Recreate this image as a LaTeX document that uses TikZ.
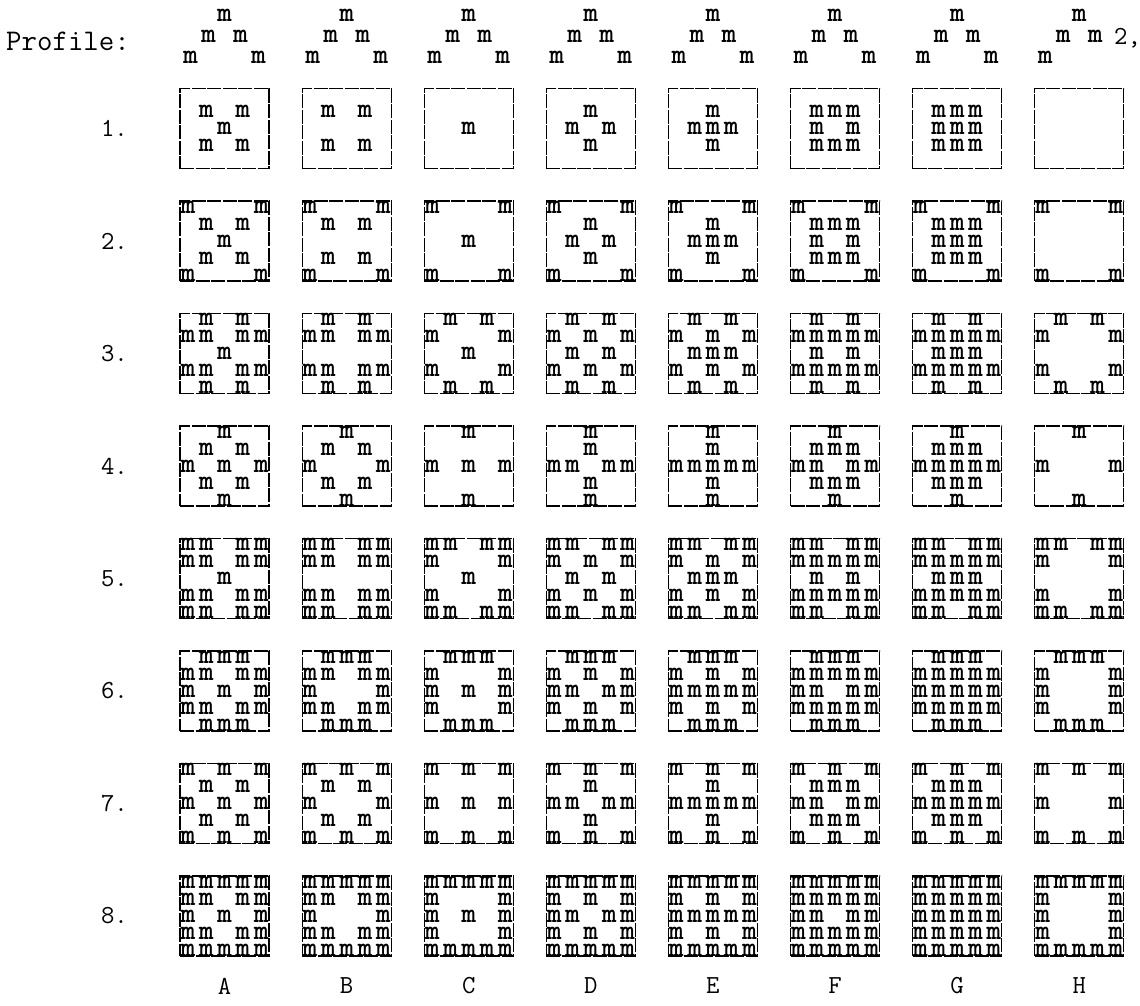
\documentclass[tikz,border=0pt]{standalone}
\usepackage{xcolor}
\usetikzlibrary{calc}

% the eight 3x3 profiles, one per column (x right, y down)
\newcommand\profA{0/0,-1/-1,1/-1,-1/1,1/1}
\newcommand\profB{-1/-1,1/-1,-1/1,1/1}
\newcommand\profC{0/0}
\newcommand\profD{0/-1,-1/0,1/0,0/1}
\newcommand\profE{0/-1,-1/0,0/0,1/0,0/1}
\newcommand\profF{-1/-1,0/-1,1/-1,-1/0,1/0,-1/1,0/1,1/1}
\newcommand\profG{-1/-1,0/-1,1/-1,-1/0,0/0,1/0,-1/1,0/1,1/1}
\newcommand\profH{}
% the neighbours typed round it, one set per row
\newcommand\layi{}
\newcommand\layii{-2/-2,2/-2,-2/2,2/2}
\newcommand\layiii{-1/-2,1/-2,-2/-1,2/-1,-2/1,2/1,-1/2,1/2}
\newcommand\layiv{0/-2,-2/0,2/0,0/2}
\newcommand\layv{\layii,\layiii}
\newcommand\layvi{\layiii,\layiv}
\newcommand\layvii{\layii,\layiv}
\newcommand\layviii{\layii,\layiii,\layiv}

\tikzset{
  typed/.style={font=\ttfamily\fontseries{b}\fontsize{28}{28}\selectfont,inner sep=0pt},
  tlabel/.style={font=\ttfamily\fontsize{26}{26}\selectfont,inner sep=0pt},
  tbox/.style={draw,line width=1.1pt,dash pattern=on 14pt off 1.5pt,
    minimum width=89pt,minimum height=80pt,inner sep=0pt},
}

\begin{document}
\begin{tikzpicture}[x=1pt,y=-1pt]
\useasboundingbox (0,0) rectangle (1140,1005);
\node[tlabel,font=\ttfamily\fontsize{30}{30}\selectfont,anchor=west] (profile) at (6,41) {Profile:};
% profile heads
\foreach \cl [count=\ci from 0] in {A,B,C,D,E,F,G}{
  \foreach \dx/\dy [count=\k] in {0/15,-16/36,16/36,-34/57,34/57}{
    \node[typed] (h-\cl-\k) at (224.5+122.1*\ci+\dx,\dy) {m};
  }
}
\foreach \dx/\dy [count=\k] in {0/15,-16/36,16/36,-34/57}{
  \node[typed] (h-H-\k) at (1079.2+\dx,\dy) {m};
}
\node[tlabel,anchor=west] (hnote) at (1114,38) {2,};
% rows
\foreach \rw in {1,...,8}{
  \node[tlabel,anchor=east] (row-\rw) at (128,128.5+112.5*\rw-112.5) {\rw.};
}
% boxes
\foreach \cl [count=\ci from 0] in {A,B,C,D,E,F,G,H}{
  \node[tlabel] (foot-\cl) at (224.5+122.1*\ci,986) {\cl};
  \foreach \rw in {1,...,8}{
    \node[tbox] (box-\cl\rw) at (224.5+122.1*\ci,128.5+112.5*\rw-112.5) {};
    \edef\pat{\csname prof\cl\endcsname}
    \edef\lay{\csname lay\romannumeral\rw\endcsname}
    \ifx\pat\empty\else
      \foreach \px/\py [count=\k] in \pat{
        \node[typed] (p-\cl\rw-\k) at ($(box-\cl\rw.center)+(18.3*\px,17*\py)$) {m};
      }
    \fi
    \ifx\lay\empty\else
      \foreach \px/\py [count=\k] in \lay{
        \node[typed] (s-\cl\rw-\k) at ($(box-\cl\rw.center)+(18.3*\px,17*\py)$) {m};
      }
    \fi
  }
}
\end{tikzpicture}
\end{document}
